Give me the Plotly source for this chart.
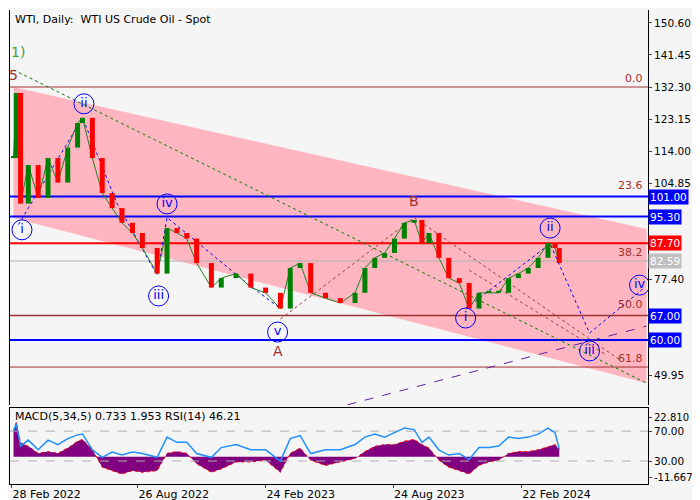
import plotly.graph_objects as go

dates = ["2022-03-03","2022-03-07","2022-03-13","2022-03-24","2022-04-07","2022-04-21","2022-05-05","2022-05-19",
"2022-06-02","2022-06-09","2022-06-23","2022-07-07","2022-07-21","2022-08-04","2022-08-19","2022-09-02","2022-09-23",
"2022-10-07","2022-10-21","2022-11-04","2022-11-18","2022-12-09","2022-12-23","2023-01-13","2023-02-03","2023-02-24",
"2023-03-17","2023-03-31","2023-04-14","2023-04-29","2023-05-20","2023-06-10","2023-07-01","2023-07-15","2023-07-29",
"2023-08-12","2023-08-26","2023-09-09","2023-09-23","2023-10-04","2023-10-14","2023-10-28","2023-11-11","2023-11-26",
"2023-12-10","2023-12-24","2024-01-07","2024-01-21","2024-02-04","2024-02-18","2024-03-03","2024-03-17","2024-03-31",
"2024-04-10","2024-04-16"]
closes = [112,130.6,99,110,100.6,112,105,115,122,123.5,112,102,97.7,93.5,90.6,86.3,79,92,90.6,89,82,75,77.7,79,75,73.5,
69,80.6,82,73.5,72,70.6,73.5,80.6,83.5,84.9,89,93.5,94.3,87.7,90.6,83.5,77.7,76.3,69,73.5,73.5,73.5,77.7,79,80.6,83.5,87.7,86.3,82.0]
rsi = [70,80,50,58,45,58,52,60,65,66,45,35,42,38,42,40,35,62,55,55,40,35,48,52,45,45,30,60,64,40,45,45,52,62,66,62,68,74,72,
55,62,45,38,40,32,48,48,50,62,60,62,66,74,68,46]
macd = [15,20,8,6,2,3,2,5,9,10,4,-6,-8,-10,-8,-9,-8,2,3,2,-4,-9,-7,-3,-3,-2,-9,2,5,-2,-5,-3,-1,3,6,7,7,9,10,7,5,-2,-6,-8,
-10,-5,-3,-2,2,3,3,4,6,7,4]
opens = [closes[0]] + closes[:-1]

x0, x1 = "2022-02-26", "2024-08-20"
chan_x = ["2022-03-03", "2024-08-18", "2024-08-18", "2022-03-03"]
chan_y = [132.3, 91.7, 47.7, 94.9]
levels = [(132.3, "#a03030", 1), (101.0, "blue", 2), (95.3, "blue", 2), (87.7, "red", 2), (82.59, "#b0b0b0", 1),
          (67.0, "#a03030", 1.5), (60.0, "blue", 2), (52.3, "#a03030", 1)]
fib_labels = [("0.0", 132.3), ("23.6", 101.7), ("38.2", 82.59), ("50.0", 67.7), ("61.8", 52.3)]
boxes = [("101.00", 101.0, "blue", "white"), ("95.30", 95.3, "blue", "white"), ("87.70", 87.7, "red", "white"),
         ("82.59", 82.59, "#c0c0c0", "white"), ("67.00", 67.0, "blue", "white"), ("60.00", 60.0, "blue", "white")]
waves = [("i","2022-03-15",91.5),("ii","2022-06-11",127.5),("iii","2022-09-25",72.6),("iv","2022-10-07",98.9),
         ("v","2023-03-13",62.3),("i","2023-12-05",66.3),("ii","2024-04-03",92.0),("iii","2024-05-29",56.9),("iv","2024-08-08",75.7)]
letters = [("A","2023-03-13",56.9,"#a03030"),("B","2023-09-23",99.7,"#a03030"),("5","2022-03-03",135.7,"#a03030"),
           ("1)","2022-03-10",142.3,"#40a040")]
blue_path_x = ["2022-03-10","2022-06-09","2022-07-28","2022-09-23","2022-10-07","2023-01-30","2023-03-17"]
blue_path_y = [93.0,123.5,99.0,78.5,95.0,76.0,69.0]
blue_path2_x = ["2023-12-05","2024-04-03","2024-05-29","2024-08-15"]
blue_path2_y = [69.0,87.5,62.0,75.0]
brown_x = ["2023-03-17","2023-09-23","2024-07-10"]
brown_y = [66.0,95.0,54.5]
brown2_x = ["2023-12-10","2024-06-20"]
brown2_y = [80.0, 56.0]
green_x = ["2022-03-03","2024-08-18"]
green_y = [137.2,47.7]
purple_x = ["2023-06-20","2024-08-18"]
purple_y = [41.5,64.0]
yticks = [150.60,141.45,132.30,123.15,114.00,104.85,77.40,49.95]

fig = go.Figure()
fig.add_trace(go.Scatter(x=chan_x, y=chan_y, fill="toself", fillcolor="#ffb6c1", line=dict(width=0),
                         mode="lines", hoverinfo="skip", xaxis="x", yaxis="y"))
for y, c, w in levels:
    fig.add_trace(go.Scatter(x=[x0, x1], y=[y, y], mode="lines", line=dict(color=c, width=w), xaxis="x", yaxis="y"))
for xs, ys, c, d in [(green_x, green_y, "green", "dot"), (purple_x, purple_y, "#6020a0", "dash"),
                     (blue_path_x, blue_path_y, "blue", "dot"), (blue_path2_x, blue_path2_y, "blue", "dot"),
                     (brown_x, brown_y, "#a04040", "dot"), (brown2_x, brown2_y, "#a04040", "dot")]:
    fig.add_trace(go.Scatter(x=xs, y=ys, mode="lines", line=dict(color=c, width=1, dash=d), xaxis="x", yaxis="y"))
fig.add_trace(go.Scatter(x=dates, y=closes, mode="lines", line=dict(color="#208020", width=1), xaxis="x", yaxis="y"))
for up, col in [(True, "green"), (False, "red")]:
    sx, sy = [], []
    for d, o, c in zip(dates, opens, closes):
        if (c >= o) == up:
            lo, hi = min(o, c), max(o, c)
            if hi - lo < 0.6:
                hi = lo + 0.6
            sx += [d, d, None]
            sy += [lo, hi, None]
    fig.add_trace(go.Scatter(x=sx, y=sy, mode="lines", line=dict(color=col, width=5), xaxis="x", yaxis="y"))
fig.add_trace(go.Scatter(x=[w[1] for w in waves], y=[w[2] for w in waves], mode="markers+text",
                         text=[w[0] for w in waves], textposition="middle center",
                         textfont=dict(color="blue", size=13),
                         marker=dict(symbol="circle-open", size=20, color="blue", line=dict(width=1)),
                         xaxis="x", yaxis="y"))
for t, xd, yd, c in letters:
    fig.add_annotation(x=xd, y=yd, text=t, showarrow=False, font=dict(color=c, size=14), xref="x", yref="y")
for t, yd in fib_labels:
    fig.add_annotation(x=0.995, y=yd, xref="paper", yref="y", text=t, showarrow=False, xanchor="right",
                       yanchor="bottom", font=dict(color="#a03030", size=11))
for t, yd, bg, fc in boxes:
    fig.add_annotation(x=1.0, y=yd, xref="paper", yref="y", text=t, showarrow=False, xanchor="left",
                       bgcolor=bg, font=dict(color=fc, size=10.5), borderpad=1)

fig.add_trace(go.Scatter(x=dates, y=macd, mode="lines", fill="tozeroy", fillcolor="purple",
                         line=dict(color="red", width=1, dash="dot"), xaxis="x", yaxis="y2"))
fig.add_trace(go.Scatter(x=[x0, x1], y=[70, 70], mode="lines", line=dict(color="#b0b0b0", dash="dash", width=1),
                         xaxis="x", yaxis="y3"))
fig.add_trace(go.Scatter(x=[x0, x1], y=[30, 30], mode="lines", line=dict(color="#b0b0b0", dash="dash", width=1),
                         xaxis="x", yaxis="y3"))
fig.add_trace(go.Scatter(x=dates, y=rsi, mode="lines", line=dict(color="#2090ff", width=1.5), xaxis="x", yaxis="y3"))

font = dict(family="DejaVu Sans", size=11, color="black")
fig.update_layout(
    width=700, height=500, showlegend=False, paper_bgcolor="#f5f5f5", plot_bgcolor="#f5f5f5", font=font,
    margin=dict(l=2, r=60, t=2, b=24, autoexpand=False),
    xaxis=dict(range=[x0, x1], domain=[0, 1], anchor="y2", tickvals=["2022-02-28","2022-08-26","2023-02-24","2023-08-24","2024-02-22"],
               tickformat="%d %b %Y", ticks="outside", ticklen=3, ticklabelposition="outside right", automargin=False,
               showgrid=False, showline=True, linecolor="black",
               mirror=True, zeroline=False),
    yaxis=dict(domain=[0.1667, 1], range=[41.46, 154.3], side="right", tickvals=yticks, automargin=False,
               ticktext=[f"{v:.2f}" for v in yticks], ticks="outside", ticklen=3, showgrid=False,
               showline=True, linecolor="black", mirror=True, zeroline=False, tickfont=dict(size=10.5)),
    yaxis2=dict(domain=[0, 0.16], range=[-15.7, 28.0], side="right", tickvals=[22.81, -11.667], automargin=False,
                ticktext=["22.810", "-11.667"], ticks="outside", ticklen=3, showgrid=False, showline=True,
                linecolor="black", mirror=True, zeroline=False, tickfont=dict(size=10)),
    yaxis3=dict(overlaying="y2", range=[-0.7, 100.7], side="right", tickvals=[70, 30], ticktext=["70.00", "30.00"],
                ticks="outside", ticklen=3, showgrid=False, zeroline=False, automargin=False, tickfont=dict(size=10.5)),
)
fig.add_annotation(x=0.005, y=0.998, xref="paper", yref="paper", text="WTI, Daily:  WTI US Crude Oil - Spot",
                   showarrow=False, xanchor="left", yanchor="top", font=font)
fig.add_annotation(x=0.005, y=0.16, xref="paper", yref="paper", text="MACD(5,34,5) 0.733 1.953 RSI(14) 46.21",
                   showarrow=False, xanchor="left", yanchor="top", font=font)
fig.write_html("out.html")
